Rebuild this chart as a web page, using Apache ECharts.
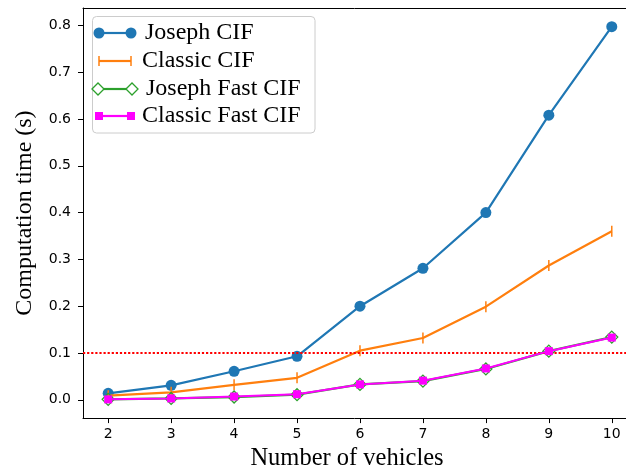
<!DOCTYPE html>
<html>
<head>
<meta charset="utf-8">
<script src="https://cdn.jsdelivr.net/npm/echarts@6/dist/echarts.min.js"></script>
<style>
html,body{margin:0;padding:0;overflow:hidden;background:#fff;}
#c{width:626px;height:476px;}
</style>
</head>
<body>
<div id="c"></div>
<script>
const vehicles = [2, 3, 4, 5, 6, 7, 8, 9, 10];
const josephCIF = [0.014, 0.031, 0.061, 0.093, 0.200, 0.281, 0.400, 0.608, 0.797];
const classicCIF = [0.009, 0.016, 0.032, 0.047, 0.105, 0.132, 0.199, 0.287, 0.360];
const josephFastCIF = [0.001, 0.003, 0.006, 0.011, 0.033, 0.040, 0.066, 0.104, 0.134];
const classicFastCIF = [0.001, 0.003, 0.007, 0.012, 0.033, 0.041, 0.067, 0.104, 0.133];
const yTicks = [0, 0.1, 0.2, 0.3, 0.4, 0.5, 0.6, 0.7, 0.8];
const xTicks = [2, 3, 4, 5, 6, 7, 8, 9, 10];
const threshold = 0.1;
const seriesNames = ['Joseph CIF', 'Classic CIF', 'Joseph Fast CIF', 'Classic Fast CIF'];

const pairs = arr => vehicles.map((v, i) => [v, arr[i]]);
const chart = echarts.init(document.getElementById('c'));
const serif = '"Liberation Serif", "Times New Roman", serif';
const sans = '"DejaVu Sans", sans-serif';

// legend graphic
const lx1 = 99, lx2 = 131, ly = [33, 61, 89, 116];
const legendG = [
  {type:'rect', shape:{x:92.5, y:16.5, width:222.5, height:116.5, r:4},
   style:{fill:'rgba(255,255,255,0.8)', stroke:'#cccccc', lineWidth:1}, z:100},
  {type:'line', shape:{x1:lx1,y1:ly[0],x2:lx2,y2:ly[0]}, style:{stroke:'#1f77b4', lineWidth:2.2}, z:101},
  {type:'circle', shape:{cx:lx1,cy:ly[0],r:5.5}, style:{fill:'#1f77b4'}, z:102},
  {type:'circle', shape:{cx:lx2,cy:ly[0],r:5.5}, style:{fill:'#1f77b4'}, z:102},
  {type:'line', shape:{x1:lx1,y1:ly[1],x2:lx2,y2:ly[1]}, style:{stroke:'#ff7f0e', lineWidth:2.2}, z:101},
  {type:'line', shape:{x1:lx1,y1:ly[1]-5,x2:lx1,y2:ly[1]+5}, style:{stroke:'#ff7f0e', lineWidth:1.5}, z:102},
  {type:'line', shape:{x1:lx2,y1:ly[1]-5,x2:lx2,y2:ly[1]+5}, style:{stroke:'#ff7f0e', lineWidth:1.5}, z:102},
  {type:'line', shape:{x1:lx1,y1:ly[2],x2:lx2,y2:ly[2]}, style:{stroke:'#2ca02c', lineWidth:2.2}, z:101},
  {type:'polygon', shape:{points:[[lx1-1-6,ly[2]],[lx1-1,ly[2]-6],[lx1-1+6,ly[2]],[lx1-1,ly[2]+6]]}, style:{fill:'#fff', stroke:'#2ca02c', lineWidth:1.3}, z:102},
  {type:'polygon', shape:{points:[[lx2+1-6,ly[2]],[lx2+1,ly[2]-6],[lx2+1+6,ly[2]],[lx2+1,ly[2]+6]]}, style:{fill:'#fff', stroke:'#2ca02c', lineWidth:1.3}, z:102},
  {type:'line', shape:{x1:lx1,y1:ly[3],x2:lx2,y2:ly[3]}, style:{stroke:'#ff00ff', lineWidth:2.2}, z:101},
  {type:'rect', shape:{x:lx1-4,y:ly[3]-4,width:8,height:8}, style:{fill:'#ff00ff'}, z:102},
  {type:'rect', shape:{x:lx2-4,y:ly[3]-4,width:8,height:8}, style:{fill:'#ff00ff'}, z:102}
];
const textX = [145, 142, 146, 142];
seriesNames.forEach((n, i) => {
  legendG.push({type:'text', x:textX[i], y:ly[i], z:103,
    style:{text:n, font:'24px ' + serif, fill:'#000', textVerticalAlign:'middle', textAlign:'left'}});
});

chart.setOption({
  animation: false,
  backgroundColor: '#fff',
  grid: {left: 83, right: 0, top: 8, bottom: 55, show: false},
  xAxis: [{
    type: 'value', min: 1.6, max: 10.226,
    name: 'Number of vehicles', nameLocation: 'middle', nameGap: 25,
    nameTextStyle: {fontFamily: serif, fontSize: 24.5, color: '#000', padding: [0, 15, 0, 0]},
    axisLine: {show: true, onZero: false, lineStyle: {color: '#000', width: 1}},
    axisTick: {show: true, length: 5, inside: false, customValues: xTicks, lineStyle: {color: '#000', width: 1}},
    axisLabel: {customValues: xTicks, margin: 9, fontFamily: sans, fontSize: 14, color: '#000', formatter: v => String(v)},
    splitLine: {show: false}
  }, {
    type: 'value', position: 'top', min: 1.6, max: 10.226,
    axisLine: {show: true, onZero: false, lineStyle: {color: '#000', width: 1}},
    axisTick: {show: false}, axisLabel: {show: false}, splitLine: {show: false}
  }],
  yAxis: {
    type: 'value', min: -0.039, max: 0.837,
    name: 'Computation time (s)', nameLocation: 'middle', nameGap: 46,
    nameTextStyle: {fontFamily: serif, fontSize: 24, color: '#000'},
    axisLine: {show: true, onZero: false, lineStyle: {color: '#000', width: 1}},
    axisTick: {show: true, length: 5, inside: false, customValues: yTicks, lineStyle: {color: '#000', width: 1}},
    axisLabel: {customValues: yTicks, margin: 12, fontFamily: sans, fontSize: 14, color: '#000', formatter: v => v.toFixed(1)},
    splitLine: {show: false}
  },
  series: [
    {name: seriesNames[0], type: 'line', data: pairs(josephCIF), symbol: 'circle', symbolSize: 11,
     lineStyle: {color: '#1f77b4', width: 2.2}, itemStyle: {color: '#1f77b4'}, z: 2},
    {name: seriesNames[1], type: 'line', data: pairs(classicCIF), symbol: 'rect', symbolSize: [1.5, 11],
     lineStyle: {color: '#ff7f0e', width: 2.2}, itemStyle: {color: '#ff7f0e'}, z: 3},
    {name: seriesNames[2], type: 'line', data: pairs(josephFastCIF), symbol: 'diamond', symbolSize: 12,
     lineStyle: {color: '#2ca02c', width: 2.2}, itemStyle: {color: 'rgba(255,255,255,0)', borderColor: '#2ca02c', borderWidth: 1.3}, z: 4},
    {name: seriesNames[3], type: 'line', data: pairs(classicFastCIF), symbol: 'rect', symbolSize: 8,
     lineStyle: {color: '#ff00ff', width: 2}, itemStyle: {color: '#ff00ff'}, z: 5,
     markLine: {silent: true, symbol: ['none', 'none'], label: {show: false},
       lineStyle: {color: '#ff0000', type: [2.2, 1.9], width: 2.2},
       data: [{yAxis: threshold}]}}
  ],
  graphic: legendG
});
</script>
</body>
</html>
